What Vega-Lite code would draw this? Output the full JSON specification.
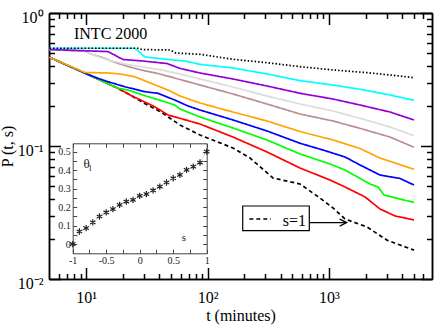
{
  "$schema": "https://vega.github.io/schema/vega-lite/v6.json",
  "autosize": {"type": "none"},
  "padding": {"left": 49, "top": 13, "right": 4, "bottom": 48},
  "width": 383,
  "height": 266,
  "background": "white",
  "config": {"font": "Liberation Serif", "view": {"stroke": null}, "axis": {"grid": false, "labelFlush": false, "labelOverlap": false, "domainColor": "black", "tickColor": "black", "labelColor": "black", "titleColor": "black", "titleFontWeight": "normal"}},
  "resolve": {"scale": {"x": "independent", "y": "independent"}, "axis": {"x": "independent", "y": "independent"}},
  "datasets": {
    "lines": [
      {"s": "s=1", "t": 5, "P": 0.4644}, {"s": "s=1", "t": 10.37, "P": 0.3447}, {"s": "s=1", "t": 18.31, "P": 0.2715}, {"s": "s=1", "t": 23.43, "P": 0.2396}, {"s": "s=1", "t": 30.38, "P": 0.2087}, {"s": "s=1", "t": 41.38, "P": 0.1801}, {"s": "s=1", "t": 59.33, "P": 0.1438}, {"s": "s=1", "t": 86.7, "P": 0.121}, {"s": "s=1", "t": 162, "P": 0.0966}, {"s": "s=1", "t": 223.7, "P": 0.0812}, {"s": "s=1", "t": 345.9, "P": 0.0575}, {"s": "s=1", "t": 577.2, "P": 0.0518}, {"s": "s=1", "t": 843.3, "P": 0.0406}, {"s": "s=1", "t": 1079, "P": 0.0342}, {"s": "s=1", "t": 1354, "P": 0.0283}, {"s": "s=1", "t": 2056, "P": 0.0246}, {"s": "s=1", "t": 3004, "P": 0.0196}, {"s": "s=1", "t": 3842, "P": 0.018}, {"s": "s=1", "t": 5012, "P": 0.0165},
      {"s": "red", "t": 5, "P": 0.4644}, {"s": "red", "t": 10.37, "P": 0.3447}, {"s": "red", "t": 18.31, "P": 0.2715}, {"s": "red", "t": 23.43, "P": 0.2396}, {"s": "red", "t": 36.72, "P": 0.1974}, {"s": "red", "t": 47.25, "P": 0.171}, {"s": "red", "t": 59.33, "P": 0.1615}, {"s": "red", "t": 86.7, "P": 0.1463}, {"s": "red", "t": 162, "P": 0.1168}, {"s": "red", "t": 308.8, "P": 0.0902}, {"s": "red", "t": 577.2, "P": 0.0683}, {"s": "red", "t": 1019, "P": 0.0555}, {"s": "red", "t": 1354, "P": 0.0492}, {"s": "red", "t": 1980, "P": 0.0414}, {"s": "red", "t": 2630, "P": 0.0336}, {"s": "red", "t": 3496, "P": 0.0298}, {"s": "red", "t": 5012, "P": 0.0278},
      {"s": "green", "t": 5, "P": 0.4644}, {"s": "green", "t": 10.37, "P": 0.3447}, {"s": "green", "t": 18.31, "P": 0.2715}, {"s": "green", "t": 22.14, "P": 0.2636}, {"s": "green", "t": 32.35, "P": 0.2347}, {"s": "green", "t": 44.4, "P": 0.2153}, {"s": "green", "t": 53.65, "P": 0.2033}, {"s": "green", "t": 59.33, "P": 0.1897}, {"s": "green", "t": 86.7, "P": 0.1652}, {"s": "green", "t": 162, "P": 0.1366}, {"s": "green", "t": 308.8, "P": 0.111}, {"s": "green", "t": 577.2, "P": 0.0871}, {"s": "green", "t": 1019, "P": 0.0732}, {"s": "green", "t": 1354, "P": 0.066}, {"s": "green", "t": 2176, "P": 0.0518}, {"s": "green", "t": 2533, "P": 0.0492}, {"s": "green", "t": 2838, "P": 0.0428}, {"s": "green", "t": 3842, "P": 0.0399}, {"s": "green", "t": 5012, "P": 0.0377},
      {"s": "blue", "t": 5, "P": 0.4644}, {"s": "blue", "t": 10.37, "P": 0.3447}, {"s": "blue", "t": 12.53, "P": 0.3228}, {"s": "blue", "t": 15.15, "P": 0.3044}, {"s": "blue", "t": 20.79, "P": 0.2792}, {"s": "blue", "t": 30.38, "P": 0.256}, {"s": "blue", "t": 39.09, "P": 0.249}, {"s": "blue", "t": 53.65, "P": 0.2217}, {"s": "blue", "t": 69.05, "P": 0.1999}, {"s": "blue", "t": 86.7, "P": 0.1864}, {"s": "blue", "t": 162, "P": 0.1569}, {"s": "blue", "t": 308.8, "P": 0.1297}, {"s": "blue", "t": 577.2, "P": 0.1048}, {"s": "blue", "t": 892.7, "P": 0.0933}, {"s": "blue", "t": 1354, "P": 0.0827}, {"s": "blue", "t": 1800, "P": 0.072}, {"s": "blue", "t": 2630, "P": 0.0605}, {"s": "blue", "t": 3842, "P": 0.057}, {"s": "blue", "t": 5012, "P": 0.0509},
      {"s": "orange", "t": 5, "P": 0.4644}, {"s": "orange", "t": 9.74, "P": 0.357}, {"s": "orange", "t": 15.15, "P": 0.354}, {"s": "orange", "t": 19.02, "P": 0.3478}, {"s": "orange", "t": 25.13, "P": 0.3319}, {"s": "orange", "t": 34.24, "P": 0.2961}, {"s": "orange", "t": 47.25, "P": 0.2636}, {"s": "orange", "t": 59.33, "P": 0.2376}, {"s": "orange", "t": 86.7, "P": 0.2105}, {"s": "orange", "t": 162, "P": 0.1801}, {"s": "orange", "t": 308.8, "P": 0.1542}, {"s": "orange", "t": 577.2, "P": 0.1285}, {"s": "orange", "t": 1079, "P": 0.111}, {"s": "orange", "t": 1800, "P": 0.0958}, {"s": "orange", "t": 2630, "P": 0.0812}, {"s": "orange", "t": 3496, "P": 0.0745}, {"s": "orange", "t": 5012, "P": 0.0668},
      {"s": "brown", "t": 5, "P": 0.531}, {"s": "brown", "t": 9.79, "P": 0.518}, {"s": "brown", "t": 10.97, "P": 0.492}, {"s": "brown", "t": 14.05, "P": 0.4588}, {"s": "brown", "t": 16.04, "P": 0.4355}, {"s": "brown", "t": 22.14, "P": 0.3961}, {"s": "brown", "t": 28.33, "P": 0.3728}, {"s": "brown", "t": 39.09, "P": 0.3508}, {"s": "brown", "t": 59.33, "P": 0.3162}, {"s": "brown", "t": 86.7, "P": 0.2875}, {"s": "brown", "t": 162, "P": 0.246}, {"s": "brown", "t": 308.8, "P": 0.2069}, {"s": "brown", "t": 577.2, "P": 0.174}, {"s": "brown", "t": 1079, "P": 0.1542}, {"s": "brown", "t": 1800, "P": 0.1358}, {"s": "brown", "t": 3179, "P": 0.1168}, {"s": "brown", "t": 5012, "P": 0.0978},
      {"s": "grey", "t": 5, "P": 0.531}, {"s": "grey", "t": 9.79, "P": 0.518}, {"s": "grey", "t": 10.97, "P": 0.492}, {"s": "grey", "t": 15.15, "P": 0.443}, {"s": "grey", "t": 20.91, "P": 0.4135}, {"s": "grey", "t": 28.33, "P": 0.3947}, {"s": "grey", "t": 39.09, "P": 0.3774}, {"s": "grey", "t": 59.33, "P": 0.3478}, {"s": "grey", "t": 86.7, "P": 0.319}, {"s": "grey", "t": 162, "P": 0.2777}, {"s": "grey", "t": 308.8, "P": 0.2376}, {"s": "grey", "t": 577.2, "P": 0.2069}, {"s": "grey", "t": 1079, "P": 0.1833}, {"s": "grey", "t": 1800, "P": 0.1615}, {"s": "grey", "t": 3179, "P": 0.1389}, {"s": "grey", "t": 5012, "P": 0.1195},
      {"s": "violet", "t": 5, "P": 0.531}, {"s": "violet", "t": 15.15, "P": 0.513}, {"s": "violet", "t": 20.13, "P": 0.447}, {"s": "violet", "t": 29.42, "P": 0.4355}, {"s": "violet", "t": 46.37, "P": 0.417}, {"s": "violet", "t": 59.33, "P": 0.383}, {"s": "violet", "t": 86.7, "P": 0.354}, {"s": "violet", "t": 162, "P": 0.319}, {"s": "violet", "t": 308.8, "P": 0.2826}, {"s": "violet", "t": 577.2, "P": 0.249}, {"s": "violet", "t": 1079, "P": 0.2256}, {"s": "violet", "t": 1800, "P": 0.2033}, {"s": "violet", "t": 3179, "P": 0.1801}, {"s": "violet", "t": 5012, "P": 0.1569},
      {"s": "cyan", "t": 5, "P": 0.543}, {"s": "cyan", "t": 25.27, "P": 0.543}, {"s": "cyan", "t": 30.56, "P": 0.467}, {"s": "cyan", "t": 39.09, "P": 0.456}, {"s": "cyan", "t": 51.95, "P": 0.443}, {"s": "cyan", "t": 65.23, "P": 0.436}, {"s": "cyan", "t": 86.7, "P": 0.411}, {"s": "cyan", "t": 162, "P": 0.386}, {"s": "cyan", "t": 308.8, "P": 0.348}, {"s": "cyan", "t": 577.2, "P": 0.31}, {"s": "cyan", "t": 1079, "P": 0.2875}, {"s": "cyan", "t": 1800, "P": 0.267}, {"s": "cyan", "t": 3179, "P": 0.242}, {"s": "cyan", "t": 5012, "P": 0.2206},
      {"s": "dotted", "t": 5, "P": 0.543}, {"s": "dotted", "t": 26.75, "P": 0.543}, {"s": "dotted", "t": 28.87, "P": 0.531}, {"s": "dotted", "t": 49.08, "P": 0.527}, {"s": "dotted", "t": 55, "P": 0.5}, {"s": "dotted", "t": 86.7, "P": 0.489}, {"s": "dotted", "t": 162, "P": 0.449}, {"s": "dotted", "t": 308.8, "P": 0.423}, {"s": "dotted", "t": 577.2, "P": 0.395}, {"s": "dotted", "t": 1079, "P": 0.373}, {"s": "dotted", "t": 2056, "P": 0.356}, {"s": "dotted", "t": 3842, "P": 0.336}, {"s": "dotted", "t": 5012, "P": 0.326}
    ],
    "theta": [
      {"sv": -1, "theta": 0.0}, {"sv": -0.9, "theta": 0.068}, {"sv": -0.8, "theta": 0.086}, {"sv": -0.7, "theta": 0.117}, {"sv": -0.6, "theta": 0.149}, {"sv": -0.5, "theta": 0.171}, {"sv": -0.4, "theta": 0.189}, {"sv": -0.3, "theta": 0.212}, {"sv": -0.2, "theta": 0.23}, {"sv": -0.1, "theta": 0.239}, {"sv": 0, "theta": 0.261}, {"sv": 0.1, "theta": 0.27}, {"sv": 0.2, "theta": 0.29}, {"sv": 0.3, "theta": 0.311}, {"sv": 0.4, "theta": 0.333}, {"sv": 0.5, "theta": 0.356}, {"sv": 0.6, "theta": 0.374}, {"sv": 0.7, "theta": 0.401}, {"sv": 0.8, "theta": 0.419}, {"sv": 0.9, "theta": 0.441}, {"sv": 1, "theta": 0.5}
    ]
  },
  "layer": [
    {
      "data": {"name": "lines"},
      "mark": {"type": "line", "strokeWidth": 1.7},
      "encoding": {
        "x": {"field": "t", "type": "quantitative", "scale": {"type": "log", "domain": [4.95, 7050], "nice": false},
          "axis": {"orient": "bottom", "values": [10, 100, 1000], "labelExpr": "datum.value == 10 ? '10¹' : datum.value == 100 ? '10²' : '10³'", "tickSize": -11.5, "tickWidth": 1.5, "domainWidth": 1.5, "labelFontSize": 16, "labelPadding": 21.5, "title": "t (minutes)", "titleFontSize": 16, "titleBaseline": "alphabetic", "titleY": 41}},
        "y": {"field": "P", "type": "quantitative", "scale": {"type": "log", "domain": [0.01, 1], "nice": false},
          "axis": {"orient": "left", "values": [0.01, 0.1, 1], "labelExpr": "datum.value == 1 ? '10⁰' : datum.value == 0.1 ? '10⁻¹' : '10⁻²'", "tickSize": -11.5, "tickWidth": 1.5, "domainWidth": 1.5, "labelFontSize": 16, "labelPadding": 17.5, "labelOffset": 4, "title": "P (t, s)", "titleFontSize": 16, "titleBaseline": "alphabetic", "titleX": -36.5, "titleY": 133, "titleAngle": 270}},
        "color": {"field": "s", "type": "nominal", "legend": null, "scale": {"domain": ["s=1", "red", "green", "blue", "orange", "brown", "grey", "violet", "cyan", "dotted"], "range": ["#000000", "#ff0000", "#00ff00", "#0000ff", "#ffa500", "#bc8f8f", "#dcdcdc", "#9400d3", "#00ffff", "#000000"]}},
        "strokeDash": {"field": "s", "type": "nominal", "legend": null, "scale": {"domain": ["s=1", "red", "green", "blue", "orange", "brown", "grey", "violet", "cyan", "dotted"], "range": [[4, 3], [1, 0], [1, 0], [1, 0], [1, 0], [1, 0], [1, 0], [1, 0], [1, 0], [1.5, 2]]}}
      }
    },
    {
      "data": {"name": "lines"},
      "mark": {"type": "point", "opacity": 0},
      "encoding": {
        "x": {"field": "t", "type": "quantitative", "scale": {"type": "log", "domain": [4.95, 7050], "nice": false},
          "axis": {"orient": "top", "values": [10, 100, 1000], "labels": false, "tickSize": -11.5, "tickWidth": 1.5, "domainWidth": 1.5, "title": null}},
        "y": {"field": "P", "type": "quantitative", "scale": {"type": "log", "domain": [0.01, 1], "nice": false},
          "axis": {"orient": "right", "values": [0.01, 0.1, 1], "labels": false, "tickSize": -11.5, "tickWidth": 1.5, "domainWidth": 1.5, "title": null}}
      }
    },
    {
      "data": {"name": "lines"},
      "mark": {"type": "point", "opacity": 0},
      "encoding": {
        "x": {"field": "t", "type": "quantitative", "scale": {"type": "log", "domain": [4.95, 7050], "nice": false},
          "axis": {"orient": "bottom", "values": [6, 7, 8, 9, 20, 30, 40, 50, 60, 70, 80, 90, 200, 300, 400, 500, 600, 700, 800, 900, 2000, 3000, 4000, 5000, 6000], "labels": false, "tickSize": -5.5, "tickWidth": 1.5, "domainWidth": 1.5, "title": null}},
        "y": {"field": "P", "type": "quantitative", "scale": {"type": "log", "domain": [0.01, 1], "nice": false},
          "axis": {"orient": "left", "values": [0.02, 0.03, 0.04, 0.05, 0.06, 0.07, 0.08, 0.09, 0.2, 0.3, 0.4, 0.5, 0.6, 0.7, 0.8, 0.9], "labels": false, "tickSize": -5.5, "tickWidth": 1.5, "domainWidth": 1.5, "title": null}}
      }
    },
    {
      "data": {"name": "lines"},
      "mark": {"type": "point", "opacity": 0},
      "encoding": {
        "x": {"field": "t", "type": "quantitative", "scale": {"type": "log", "domain": [4.95, 7050], "nice": false},
          "axis": {"orient": "top", "values": [6, 7, 8, 9, 20, 30, 40, 50, 60, 70, 80, 90, 200, 300, 400, 500, 600, 700, 800, 900, 2000, 3000, 4000, 5000, 6000], "labels": false, "tickSize": -5.5, "tickWidth": 1.5, "domainWidth": 1.5, "title": null}},
        "y": {"field": "P", "type": "quantitative", "scale": {"type": "log", "domain": [0.01, 1], "nice": false},
          "axis": {"orient": "right", "values": [0.02, 0.03, 0.04, 0.05, 0.06, 0.07, 0.08, 0.09, 0.2, 0.3, 0.4, 0.5, 0.6, 0.7, 0.8, 0.9], "labels": false, "tickSize": -5.5, "tickWidth": 1.5, "domainWidth": 1.5, "title": null}}
      }
    },
    {
      "data": {"values": [{"t1": 194.8, "t2": 688.6, "P1": 0.0354, "P2": 0.02308}]},
      "mark": {"type": "rect", "fill": "white", "stroke": "black", "strokeWidth": 1.2},
      "encoding": {
        "x": {"field": "t1", "type": "quantitative", "scale": {"type": "log", "domain": [4.95, 7050], "nice": false}, "axis": null},
        "x2": {"field": "t2"},
        "y": {"field": "P1", "type": "quantitative", "scale": {"type": "log", "domain": [0.01, 1], "nice": false}, "axis": null},
        "y2": {"field": "P2"}
      }
    },
    {
      "data": {"values": [{"t": 220.8, "P": 0.0283}, {"t": 333.1, "P": 0.0283}]},
      "mark": {"type": "line", "color": "black", "strokeWidth": 1.5, "strokeDash": [4, 3]},
      "encoding": {
        "x": {"field": "t", "type": "quantitative", "scale": {"type": "log", "domain": [4.95, 7050], "nice": false}, "axis": null},
        "y": {"field": "P", "type": "quantitative", "scale": {"type": "log", "domain": [0.01, 1], "nice": false}, "axis": null}
      }
    },
    {
      "data": {"values": [{"t1": 688.6, "t2": 1390, "P": 0.02655}]},
      "mark": {"type": "rule", "color": "black", "strokeWidth": 1.2},
      "encoding": {
        "x": {"field": "t1", "type": "quantitative", "scale": {"type": "log", "domain": [4.95, 7050], "nice": false}, "axis": null},
        "x2": {"field": "t2"},
        "y": {"field": "P", "type": "quantitative", "scale": {"type": "log", "domain": [0.01, 1], "nice": false}, "axis": null}
      }
    },
    {
      "data": {"values": [{"t": 1399, "P": 0.02655}]},
      "mark": {"type": "point", "shape": "M-1,-0.5L0,0L-1,0.5", "size": 196, "filled": false, "stroke": "black", "strokeWidth": 1.2, "opacity": 1},
      "encoding": {
        "x": {"field": "t", "type": "quantitative", "scale": {"type": "log", "domain": [4.95, 7050], "nice": false}, "axis": null},
        "y": {"field": "P", "type": "quantitative", "scale": {"type": "log", "domain": [0.01, 1], "nice": false}, "axis": null}
      }
    },
    {
      "data": {"values": [{"t": 7.95, "P": 0.634, "label": "INTC 2000"}, {"t": 415.7, "P": 0.02503, "label": "s=1"}]},
      "mark": {"type": "text", "align": "left", "baseline": "alphabetic", "fontSize": 16, "color": "black"},
      "encoding": {
        "x": {"field": "t", "type": "quantitative", "scale": {"type": "log", "domain": [4.95, 7050], "nice": false}, "axis": null},
        "y": {"field": "P", "type": "quantitative", "scale": {"type": "log", "domain": [0.01, 1], "nice": false}, "axis": null},
        "text": {"field": "label"}
      }
    },
    {
      "data": {"name": "theta"},
      "mark": {"type": "line", "color": "#999999", "strokeWidth": 0.8, "strokeDash": [1, 1.5]},
      "encoding": {
        "x": {"field": "sv", "type": "quantitative", "scale": {"domain": [-1, 1], "range": [23.7, 157.7], "nice": false, "zero": false},
          "axis": {"orient": "bottom", "offset": -25.7, "values": [-1, -0.75, -0.5, -0.25, 0, 0.25, 0.5, 0.75, 1], "labelExpr": "round(datum.value*4) % 2 != 0 ? '' : (datum.value < 0 ? '-' + format(-datum.value, '~g') : format(datum.value, '~g'))", "tickSize": -4, "tickWidth": 1, "domainWidth": 1, "domainColor": "#444444", "tickColor": "#444444", "labelFontSize": 10, "labelColor": "#222222", "labelPadding": 6.5, "title": null}},
        "y": {"field": "theta", "type": "quantitative", "scale": {"domain": [-0.05, 0.545], "range": [240.3, 130.3], "nice": false, "zero": false},
          "axis": {"orient": "left", "offset": -23.7, "values": [0, 0.05, 0.1, 0.15, 0.2, 0.25, 0.3, 0.35, 0.4, 0.45, 0.5], "labelExpr": "round(datum.value*20) % 2 != 0 ? '' : (datum.value == 0 ? '0' : format(datum.value, '.1f'))", "tickSize": -4, "tickWidth": 1, "domainWidth": 1, "domainColor": "#444444", "tickColor": "#444444", "labelFontSize": 10, "labelColor": "#222222", "labelPadding": 6.5, "title": null}}
      }
    },
    {
      "data": {"name": "theta"},
      "mark": {"type": "point", "shape": "M0,-1L0,1M-0.87,-0.5L0.87,0.5M-0.87,0.5L0.87,-0.5", "size": 40, "filled": false, "stroke": "#222222", "strokeWidth": 1.2, "opacity": 1},
      "encoding": {
        "x": {"field": "sv", "type": "quantitative", "scale": {"domain": [-1, 1], "range": [23.7, 157.7], "nice": false, "zero": false},
          "axis": {"orient": "top", "offset": -130.3, "values": [-1, -0.75, -0.5, -0.25, 0, 0.25, 0.5, 0.75, 1], "labels": false, "tickSize": -4, "tickWidth": 1, "domainWidth": 1, "domainColor": "#444444", "tickColor": "#444444", "title": null}},
        "y": {"field": "theta", "type": "quantitative", "scale": {"domain": [-0.05, 0.545], "range": [240.3, 130.3], "nice": false, "zero": false},
          "axis": {"orient": "right", "offset": -225.3, "values": [0, 0.05, 0.1, 0.15, 0.2, 0.25, 0.3, 0.35, 0.4, 0.45, 0.5], "labels": false, "tickSize": -4, "tickWidth": 1, "domainWidth": 1, "domainColor": "#444444", "tickColor": "#444444", "title": null}}
      }
    },
    {
      "data": {"values": [{"sv": -0.84, "theta": 0.41, "label": "θ", "style": "normal", "fs": 13}, {"sv": -0.757, "theta": 0.397, "label": "l", "style": "italic", "fs": 9}, {"sv": 0.627, "theta": 0.018, "label": "s", "style": "italic", "fs": 11}]},
      "mark": {"type": "text", "align": "left", "baseline": "alphabetic", "color": "#222222"},
      "encoding": {
        "x": {"field": "sv", "type": "quantitative", "scale": {"domain": [-1, 1], "range": [23.7, 157.7], "nice": false, "zero": false}, "axis": null},
        "y": {"field": "theta", "type": "quantitative", "scale": {"domain": [-0.05, 0.545], "range": [240.3, 130.3], "nice": false, "zero": false}, "axis": null},
        "text": {"field": "label"},
        "fontStyle": {"field": "style", "type": "nominal", "legend": null, "scale": null},
        "size": {"field": "fs", "type": "quantitative", "legend": null, "scale": null}
      }
    }
  ]
}
